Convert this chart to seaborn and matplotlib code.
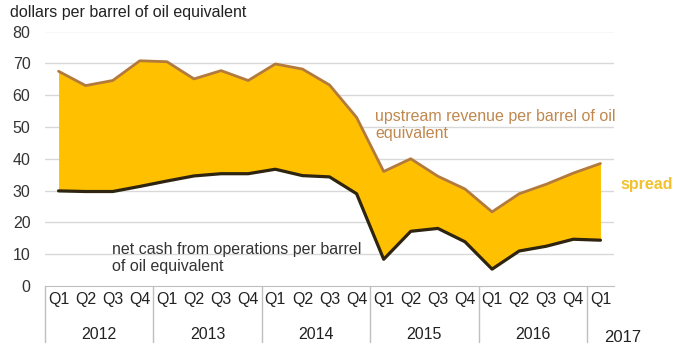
import matplotlib
matplotlib.use("Agg")
import matplotlib.pyplot as plt
import matplotlib.transforms as mtransforms
import pandas as pd
import seaborn as sb

# quarterly values, dollars per barrel of oil equivalent
quarters = ["Q1", "Q2", "Q3", "Q4"] * 5 + ["Q1"]
years = ["2012", "2013", "2014", "2015", "2016", "2017"]
upstream = [67.5, 63.0, 64.6, 70.8, 70.5, 65.1, 67.7, 64.6, 69.8, 68.2, 63.2,
            53.0, 36.0, 40.0, 34.5, 30.5, 23.3, 29.0, 32.0, 35.5, 38.5]
netcash = [29.9, 29.7, 29.7, 31.3, 33.0, 34.6, 35.3, 35.3, 36.7, 34.7, 34.3,
           29.0, 8.4, 17.2, 18.1, 13.9, 5.3, 11.0, 12.5, 14.7, 14.4]

df = pd.DataFrame({"pos": range(len(upstream)), "upstream": upstream,
                   "netcash": netcash, "quarter": quarters})

sb.set_style("white")
plt.rcParams["font.family"] = ["Liberation Sans", "DejaVu Sans"]

W, H = 680, 353
fs = 11.5
fig = plt.figure(figsize=(W / 100, H / 100), dpi=100)
ax = fig.add_axes([45 / W, (H - 286) / H, (614 - 45) / W, (286 - 31.5) / H])

gold = "#FFC000"
ax.fill_between(df.pos, df.netcash, df.upstream, color=gold, lw=0, zorder=2)
sb.lineplot(x="pos", y="upstream", data=df, color="#B37A3E", lw=2, ax=ax, zorder=3)
sb.lineplot(x="pos", y="netcash", data=df, color="#2E2410", lw=2.3, ax=ax, zorder=3)

ax.set_xlim(-0.5, len(upstream) - 0.5)
ax.set_ylim(0, 80)
ax.set_yticks(range(0, 81, 10))
for v in range(10, 81, 10):
    ax.axhline(v, color="#D9D9D9", lw=1, zorder=1)
ax.set_xlabel("")
ax.set_ylabel("")
for s in ["top", "right", "left"]:
    ax.spines[s].set_visible(False)
ax.spines["bottom"].set_color("#BFBFBF")
ax.tick_params(axis="y", length=0, pad=10.5, labelsize=fs, colors="#333333")
ax.set_xticks(df.pos)
ax.set_xticklabels(quarters)
ax.tick_params(axis="x", length=0, pad=4.5, labelsize=fs, colors="#222222")

# year separators and labels below the quarters
trans = mtransforms.blended_transform_factory(ax.transData, ax.transAxes)
for b in [-0.5, 3.5, 7.5, 11.5, 15.5, 19.5]:
    ax.plot([b, b], [0, -0.222], color="#BFBFBF", lw=1, transform=trans, clip_on=False)
for i, yr in enumerate(years[:-1]):
    ax.text(4 * i + 1.5, -0.19, yr, transform=trans, ha="center", va="center",
            fontsize=fs, color="#222222")
fig.text(623 / W, 1 - 338 / H, years[-1], ha="center", va="center",
         fontsize=12, color="#222222")

fig.text(10 / W, 1 - 12 / H, "dollars per barrel of oil equivalent",
         ha="left", va="center", fontsize=fs, color="#222222")
fig.text(375 / W, 1 - 125 / H, "upstream revenue per barrel of oil\nequivalent",
         ha="left", va="center", fontsize=fs, color="#C0884E", linespacing=1.2)
fig.text(112 / W, 1 - 258 / H, "net cash from operations per barrel\nof oil equivalent",
         ha="left", va="center", fontsize=fs, color="#333333", linespacing=1.2)
fig.text(620 / W, 1 - 185 / H, "spread", ha="left", va="center",
         fontsize=fs, fontweight="bold", color="#F2C12E")

fig.savefig("out.png", dpi=100)
